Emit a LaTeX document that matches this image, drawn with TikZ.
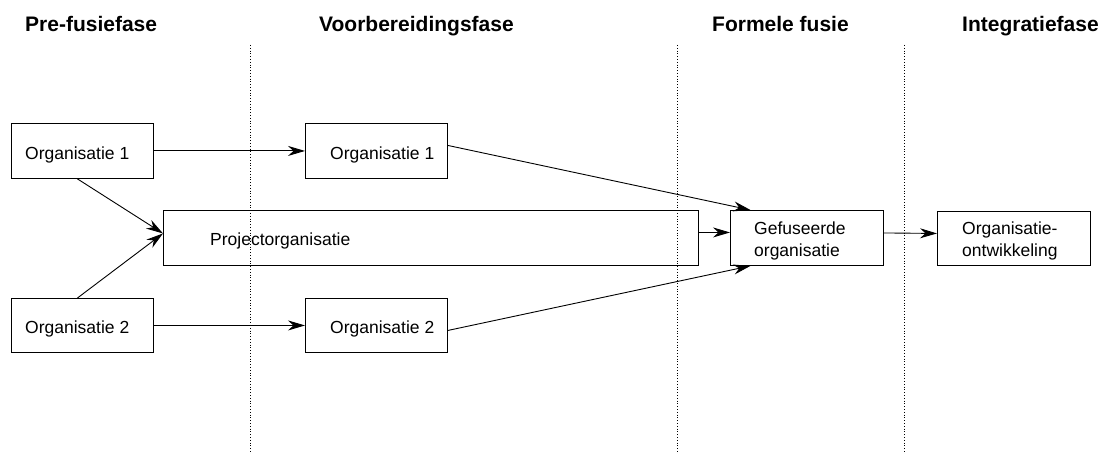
\documentclass[tikz,border=0pt]{standalone}
\usepackage{fontspec}
\setmainfont{Liberation Sans}
\usetikzlibrary{arrows.meta}
\begin{document}
\begin{tikzpicture}[x=1pt,y=-1pt,
  box/.style={draw, line width=0.9pt, inner sep=0pt, anchor=north west, minimum width=#1},
  txt/.style={anchor=base west, inner sep=0pt, font=\fontsize{17.5}{21}\selectfont},
  head/.style={anchor=base west, inner sep=0pt, font=\fontsize{21}{25}\selectfont\bfseries},
  conn/.style={line width=0.9pt, -{Stealth[length=17pt,width=10pt,inset=5.5pt]}},
  sep/.style={line width=0.8pt, dotted}]
\useasboundingbox (0,0) rectangle (1102,454);
% headings
\node[head] (h1) at (25,32) {Pre-fusiefase};
\node[head] (h2) at (319,32) {Voorbereidingsfase};
\node[head] (h3) at (712,32) {Formele fusie};
\node[head] (h4) at (962,32) {Integratiefase};
% separators
\draw[sep] (250,45) -- (250,454);
\draw[sep] (677,45) -- (677,454);
\draw[sep] (904,45) -- (904,454);
% boxes
\node[box=142, minimum height=55] (o1) at (11,123) {};
\node[box=142, minimum height=54] (o2) at (11,298) {};
\node[box=535, minimum height=55] (p) at (163,210) {};
\node[box=142, minimum height=55] (m1) at (305,123) {};
\node[box=142, minimum height=54] (m2) at (305,298) {};
\node[box=153, minimum height=55] (g) at (730,210) {};
\node[box=153, minimum height=54] (oo) at (937,211) {};
% texts
\node[txt] (t1) at (25,160) {Organisatie 1};
\node[txt] (t2) at (25,333) {Organisatie 2};
\node[txt] (tm1) at (330,160) {Organisatie 1};
\node[txt] (tm2) at (330,333) {Organisatie 2};
\node[txt] (tp) at (210,246) {Projectorganisatie};
\node[txt] (tg1) at (754,235) {Gefuseerde};
\node[txt] (tg2) at (754,256) {organisatie};
\node[txt] (to1) at (962,235) {Organisatie-};
\node[txt] (to2) at (962,256) {ontwikkeling};
% connectors
\draw[conn] (o1.east) -- (m1.west);
\draw[conn] (o2.east) -- (m2.west);
\draw[conn] ([xshift=-5pt]o1.south) -- ([yshift=4.5pt]p.west);
\draw[conn] ([xshift=-5pt]o2.north) -- ([yshift=4.5pt]p.west);
\draw[conn] ([yshift=5.5pt]m1.east) -- ([xshift=-56.5pt]g.north);
\draw[conn] ([yshift=-5pt]m2.east) -- ([xshift=-56.5pt]g.south);
\draw[conn] ([yshift=5.5pt]p.east) -- ([yshift=5.5pt]g.west);
\draw[conn] ([yshift=5pt]g.east) -- ([yshift=5pt]oo.west);
\end{tikzpicture}
\end{document}
